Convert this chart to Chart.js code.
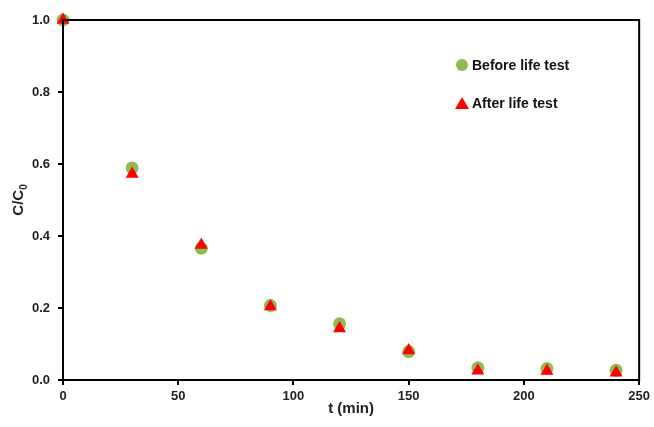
<!DOCTYPE html>
<html>
<head>
<meta charset="utf-8">
<script src="https://cdn.jsdelivr.net/npm/chart.js"></script>
<style>
  html, body { margin: 0; padding: 0; background: #fff; }
  #wrap { width: 654px; height: 427px; }
</style>
</head>
<body>
<div id="wrap"><canvas id="c" width="654" height="427"></canvas></div>
<script>
const times = [0, 30, 60, 90, 120, 150, 180, 210, 240];
const beforeVals = [1.0, 0.589, 0.366, 0.207, 0.156, 0.079, 0.034, 0.032, 0.027];
const afterVals = [1.0, 0.572, 0.375, 0.204, 0.143, 0.082, 0.026, 0.025, 0.020];
const xTicks = [0, 50, 100, 150, 200, 250];
const yTicks = [0, 0.2, 0.4, 0.6, 0.8, 1.0];
const legendLabels = ["Before life test", "After life test"];

const FONT = "'Liberation Sans', Arial, sans-serif";

const toPoints = vals => times.map((t, i) => ({ x: t, y: vals[i] }));

// frame, axis titles and the in-plot legend
const extras = {
  id: "extras",
  afterDatasetsDraw(chart) {
    const { ctx, chartArea: a } = chart;
    ctx.save();
    ctx.strokeStyle = "#000";
    ctx.lineWidth = 2;
    ctx.strokeRect(a.left, a.top, a.right - a.left, a.bottom - a.top);

    ctx.fillStyle = "#222";
    ctx.font = "bold 15px " + FONT;
    ctx.textAlign = "center";
    ctx.textBaseline = "middle";
    ctx.fillText("t (min)", (a.left + a.right) / 2, 409);

    // y title C/C0 with subscript
    ctx.translate(19, (a.top + a.bottom) / 2);
    ctx.rotate(-Math.PI / 2);
    const main = "C/C";
    const w1 = ctx.measureText(main).width;
    ctx.font = "bold 10px " + FONT;
    const w2 = ctx.measureText("0").width;
    ctx.font = "bold 15px " + FONT;
    ctx.textAlign = "left";
    ctx.fillText(main, -(w1 + w2) / 2, 0);
    ctx.font = "bold 10px " + FONT;
    ctx.fillText("0", -(w1 + w2) / 2 + w1, 5);
    ctx.restore();

    // legend
    ctx.save();
    ctx.font = "bold 14px " + FONT;
    ctx.textBaseline = "middle";
    ctx.fillStyle = "#8fbc52";
    ctx.beginPath();
    ctx.arc(462, 65, 6, 0, Math.PI * 2);
    ctx.fill();
    ctx.fillStyle = "#ff0000";
    ctx.beginPath();
    ctx.moveTo(462, 97);
    ctx.lineTo(469, 109);
    ctx.lineTo(455, 109);
    ctx.closePath();
    ctx.fill();
    ctx.fillStyle = "#111";
    ctx.fillText(legendLabels[0], 472, 66);
    ctx.fillText(legendLabels[1], 472, 104);
    ctx.restore();
  }
};

new Chart(document.getElementById("c"), {
  type: "scatter",
  data: {
    datasets: [
      {
        label: legendLabels[1],
        data: toPoints(afterVals),
        pointStyle: "triangle",
        pointRadius: 7.5,
        backgroundColor: "#ff0000",
        borderColor: "#ff0000",
        borderWidth: 0,
        clip: false,
        order: 0
      },
      {
        label: legendLabels[0],
        data: toPoints(beforeVals),
        pointStyle: "circle",
        pointRadius: 6.5,
        backgroundColor: "#8fbc52",
        borderColor: "#8fbc52",
        borderWidth: 0,
        clip: false,
        order: 1
      }
    ]
  },
  options: {
    responsive: false,
    animation: false,
    layout: { padding: { top: 20, right: 14, left: 0, bottom: 0 } },
    plugins: { legend: { display: false }, tooltip: { enabled: false } },
    scales: {
      x: {
        type: "linear",
        min: 0,
        max: 250,
        afterBuildTicks: s => { s.ticks = xTicks.map(v => ({ value: v })); },
        afterFit: s => { s.height = 47; },
        ticks: { color: "#222", font: { family: FONT, size: 13, weight: "bold" }, padding: 4 },
        grid: { drawOnChartArea: false, drawTicks: true, tickLength: 5, color: "#000", lineWidth: 2 },
        border: { color: "#000", width: 2 }
      },
      y: {
        min: 0,
        max: 1,
        afterBuildTicks: s => { s.ticks = yTicks.map(v => ({ value: v })); },
        afterFit: s => { s.width = 63; },
        ticks: { color: "#222", font: { family: FONT, size: 13, weight: "bold" }, padding: 8, callback: v => v.toFixed(1) },
        grid: { drawOnChartArea: false, drawTicks: true, tickLength: 5, color: "#000", lineWidth: 2 },
        border: { color: "#000", width: 2 }
      }
    }
  },
  plugins: [extras]
});
</script>
</body>
</html>
